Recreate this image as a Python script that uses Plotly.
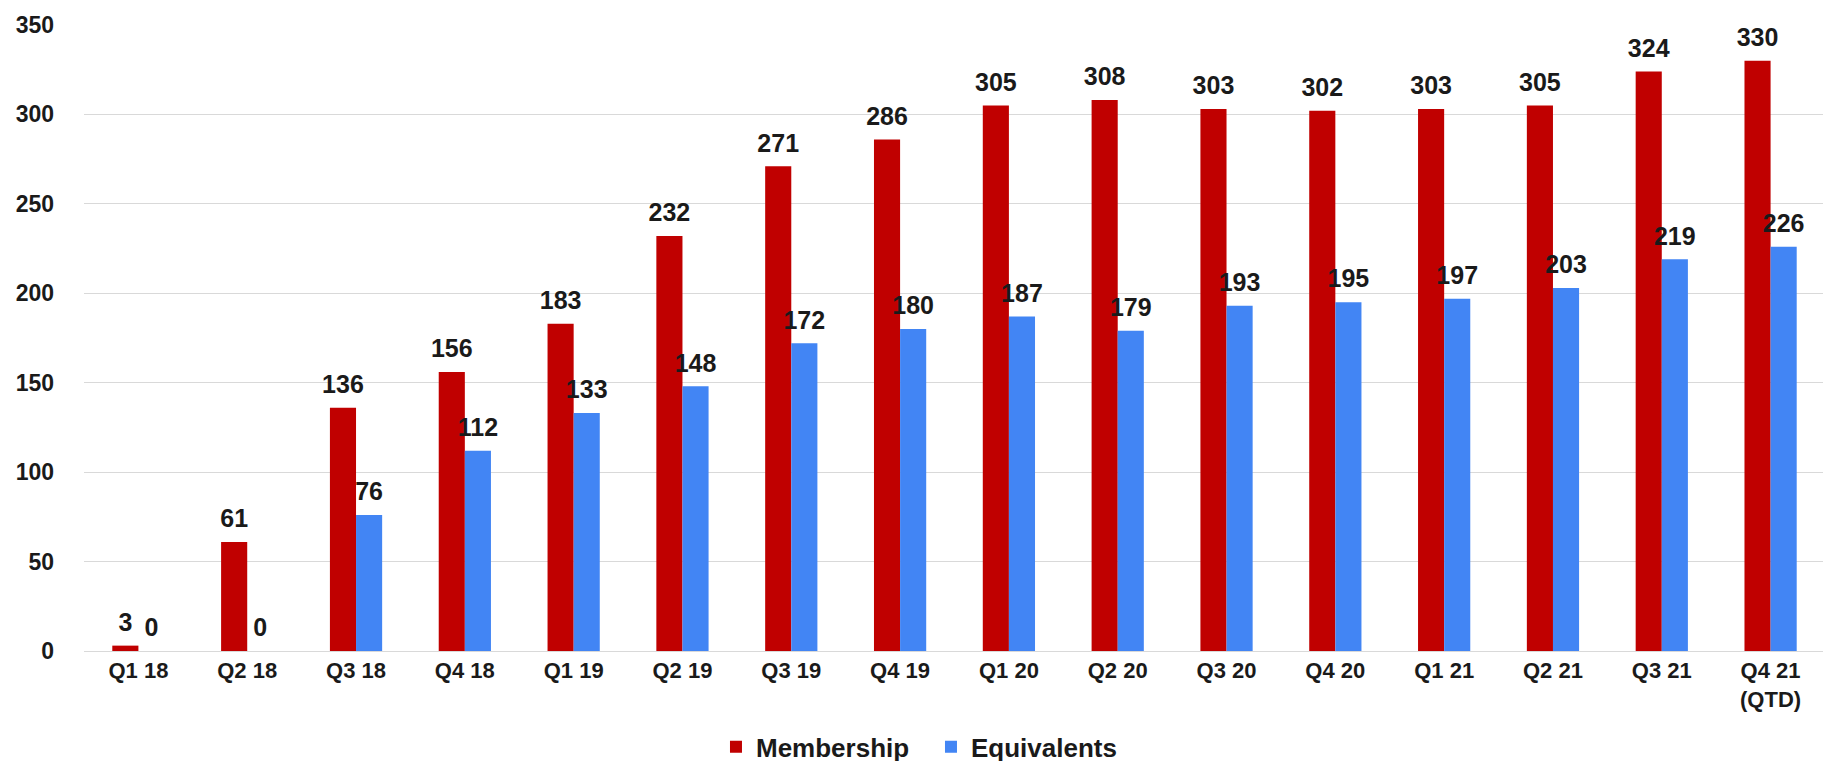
import plotly.graph_objects as go

categories = ["Q1 18", "Q2 18", "Q3 18", "Q4 18", "Q1 19", "Q2 19", "Q3 19", "Q4 19",
              "Q1 20", "Q2 20", "Q3 20", "Q4 20", "Q1 21", "Q2 21", "Q3 21", "Q4 21<br>(QTD)"]
membership = [3, 61, 136, 156, 183, 232, 271, 286, 305, 308, 303, 302, 303, 305, 324, 330]
equivalents = [0, 0, 76, 112, 133, 148, 172, 180, 187, 179, 193, 195, 197, 203, 219, 226]
y_ticks = [0, 50, 100, 150, 200, 250, 300, 350]

FONT = "Liberation Sans, Arial, sans-serif"
TXT = "#1a1a1a"
label_font = dict(family=FONT, size=25, color=TXT, weight="bold")
GAP = 0.52

fig = go.Figure()
series = [("Membership", membership, "#C00000"), ("Equivalents", equivalents, "#4285F4")]
for name, vals, col in series:
    fig.add_trace(go.Bar(
        x=categories, y=vals, name=name, offsetgroup=name,
        marker=dict(color=col, line=dict(width=0)),
        hoverinfo="x+y",
    ))
for name, vals, col in series:
    fig.add_trace(go.Scatter(
        x=categories, y=vals, name=name + " labels", offsetgroup=name,
        mode="markers+text", text=[str(v) for v in vals], textposition="top center",
        textfont=label_font, marker=dict(size=12, opacity=0, color=col),
        showlegend=False, hoverinfo="skip", cliponaxis=False,
    ))

fig.update_layout(
    width=1831, height=761,
    margin=dict(l=76, r=14, t=17, b=118, autoexpand=False),
    paper_bgcolor="white", plot_bgcolor="white",
    barmode="group", bargap=GAP, bargroupgap=0,
    scattermode="group", scattergap=GAP,
    font=dict(family=FONT, size=22, color=TXT),
    showlegend=True,
    legend=dict(orientation="h", x=0.363, xanchor="left",
                y=-0.153, yanchor="middle",
                font=dict(family=FONT, size=26, color=TXT, weight="bold"),
                traceorder="normal", itemwidth=30,
                entrywidth=170, entrywidthmode="pixels"),
)
fig.update_xaxes(
    type="category", showgrid=False, showline=True, linecolor="#D9D9D9", linewidth=1,
    ticks="", tickangle=0, automargin=False,
    tickfont=dict(family=FONT, size=22, color=TXT, weight="bold"),
)
fig.update_yaxes(
    range=[0, 350], tickvals=y_ticks, showgrid=True, gridcolor="#D9D9D9", gridwidth=1,
    zeroline=False, showline=False, ticks="", ticklabelstandoff=29, automargin=False,
    tickfont=dict(family=FONT, size=23, color=TXT, weight="bold"),
)

fig.write_html("out.html")
